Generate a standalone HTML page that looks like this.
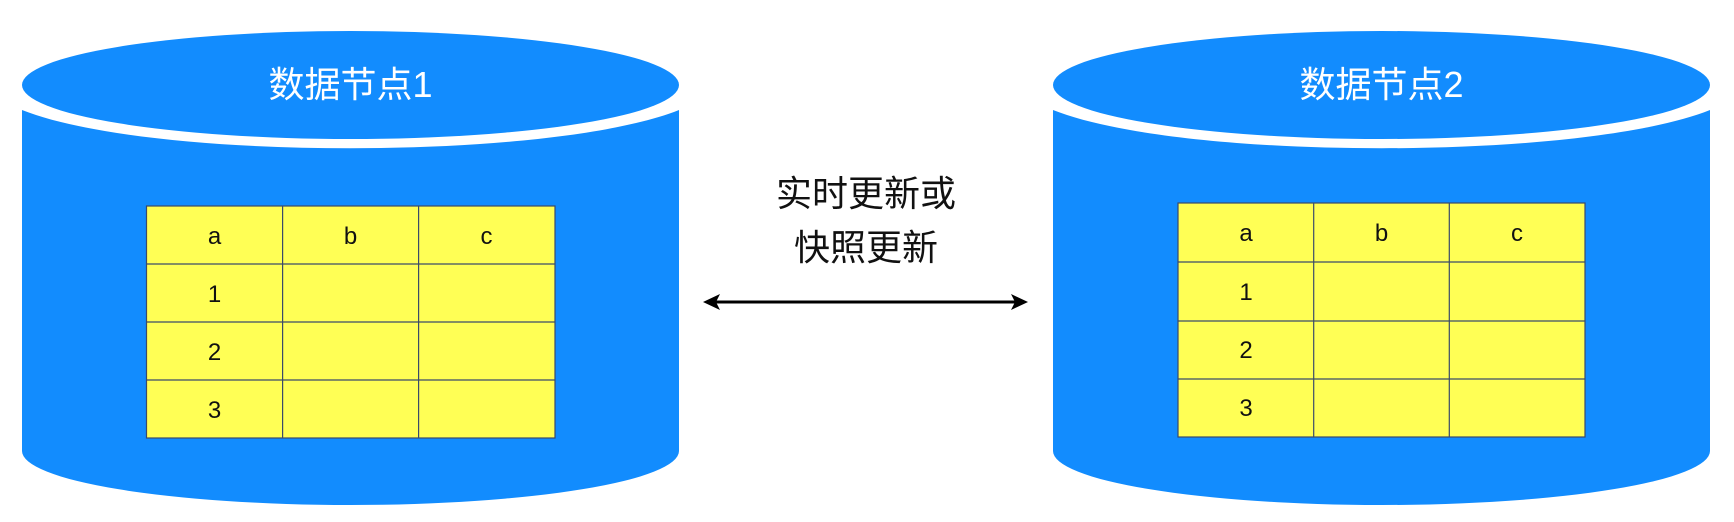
<!DOCTYPE html>
<html><head><meta charset="utf-8"><style>
html,body{margin:0;padding:0;background:#fff;width:1734px;height:522px;overflow:hidden}
</style></head><body>
<svg width="1734" height="522" viewBox="0 0 1734 522" xmlns="http://www.w3.org/2000/svg" font-family="'Liberation Sans','Noto Sans CJK SC',sans-serif">
<g id="c1">
<path d="M22,110 C150,161 551,161 679,110 L679,451 A328.5,54 0 0 1 22,451 Z" fill="#128CFE"/>
<ellipse cx="350.5" cy="85" rx="328.5" ry="54" fill="#128CFE"/>
<text x="350.5" y="97" font-size="36" fill="#fff" text-anchor="middle">数据节点1</text>
<g stroke="#3a4a6a" stroke-width="1.2" fill="#FFFF55">
<rect x="146.5" y="206" width="408.5" height="232"/>
<line x1="282.6" y1="206" x2="282.6" y2="438"/><line x1="418.6" y1="206" x2="418.6" y2="438"/>
<line x1="146.5" y1="264" x2="555" y2="264"/><line x1="146.5" y1="322" x2="555" y2="322"/><line x1="146.5" y1="380" x2="555" y2="380"/>
</g>
<g font-size="24" fill="#111" text-anchor="middle">
<text x="214.5" y="244">a</text><text x="350.5" y="244">b</text><text x="486.5" y="244">c</text>
<text x="214.5" y="302">1</text><text x="214.5" y="360">2</text><text x="214.5" y="418">3</text>
</g>
</g>
<g>
<path d="M1053,110 C1181,161 1582,161 1710,110 L1710,451 A328.5,54 0 0 1 1053,451 Z" fill="#128CFE"/>
<ellipse cx="1381.5" cy="85" rx="328.5" ry="54" fill="#128CFE"/>
<text x="1381.5" y="97" font-size="36" fill="#fff" text-anchor="middle">数据节点2</text>
<g stroke="#3a4a6a" stroke-width="1.2" fill="#FFFF55">
<rect x="1178" y="203" width="407" height="234"/>
<line x1="1313.7" y1="203" x2="1313.7" y2="437"/><line x1="1449.3" y1="203" x2="1449.3" y2="437"/>
<line x1="1178" y1="262" x2="1585" y2="262"/><line x1="1178" y1="321" x2="1585" y2="321"/><line x1="1178" y1="379" x2="1585" y2="379"/>
</g>
<g font-size="24" fill="#111" text-anchor="middle">
<text x="1246" y="241">a</text><text x="1381.5" y="241">b</text><text x="1517" y="241">c</text>
<text x="1246" y="300">1</text><text x="1246" y="358">2</text><text x="1246" y="416">3</text>
</g>
</g>
<text x="866" y="206" font-size="36" fill="#111" text-anchor="middle">实时更新或</text>
<text x="866" y="260" font-size="36" fill="#111" text-anchor="middle">快照更新</text>
<line x1="712" y1="302" x2="1019" y2="302" stroke="#000" stroke-width="3"/>
<path d="M703,302 L720,294 L716,302 L720,310 Z" fill="#000"/>
<path d="M1028,302 L1011,294 L1015,302 L1011,310 Z" fill="#000"/>
</svg>
</body></html>
